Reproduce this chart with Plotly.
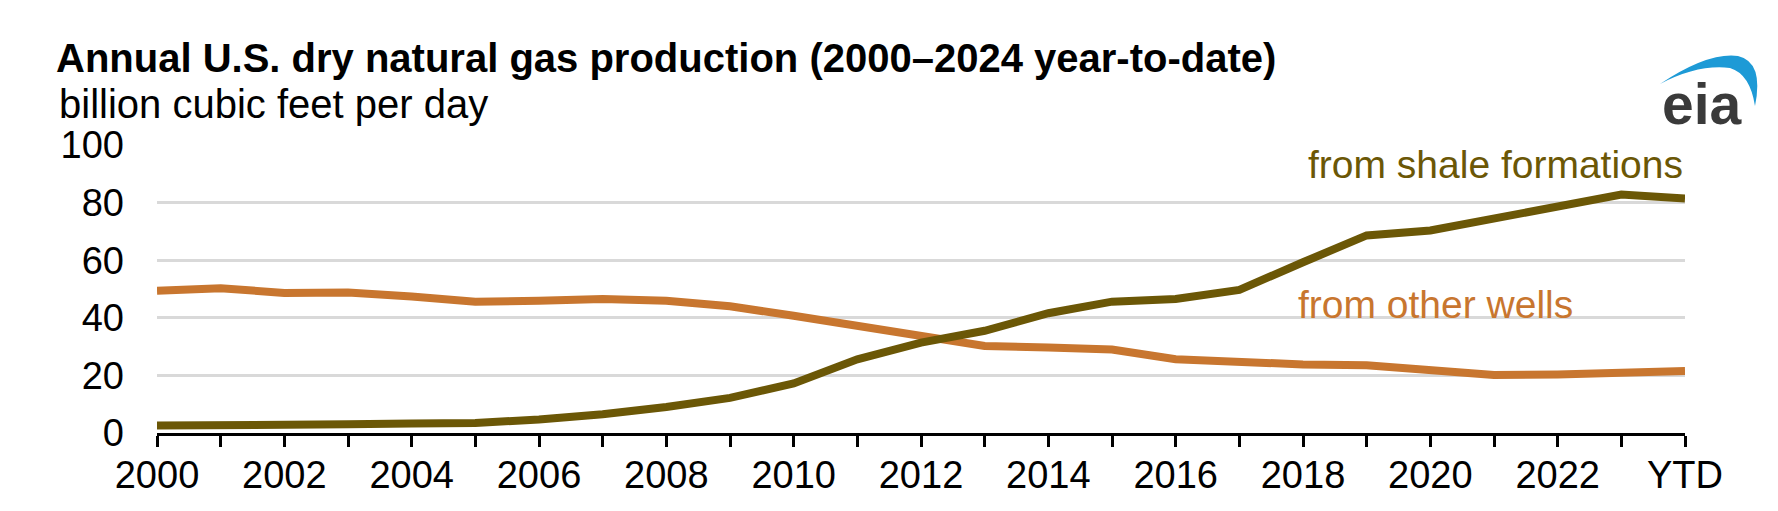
import plotly.graph_objects as go

# ---- data ----
categories = ["2000", "2001", "2002", "2003", "2004", "2005", "2006", "2007", "2008", "2009",
              "2010", "2011", "2012", "2013", "2014", "2015", "2016", "2017", "2018", "2019",
              "2020", "2021", "2022", "2023", "YTD"]
tick_labels = ["2000", "", "2002", "", "2004", "", "2006", "", "2008", "", "2010", "", "2012", "",
               "2014", "", "2016", "", "2018", "", "2020", "", "2022", "", "YTD"]
shale = [2.6, 2.6, 2.9, 3.0, 3.3, 3.5, 4.7, 6.5, 9.0, 12.2, 17.2, 25.6, 31.4, 35.5, 41.6,
         45.6, 46.5, 49.7, 59.3, 68.6, 70.3, 74.4, 78.8, 82.8, 81.4]
other = [49.4, 50.3, 48.6, 48.8, 47.4, 45.6, 45.9, 46.5, 45.9, 44.0, 40.7, 37.2, 34.0, 30.2,
         29.7, 29.0, 25.6, 24.4, 23.8, 23.5, 22.1, 20.1, 20.3, 21.2, 21.5]
y_ticks = [0, 20, 40, 60, 80, 100]

SHALE_C = "#6b5706"
OTHER_C = "#c8762f"
FONT = "Liberation Sans, Arial, sans-serif"

W, H = 1778, 511
L, R, T, B = 149, 101, 137, 86
PW, PH = W - L - R, H - T - B


def px(x):
    return (x - L) / PW


def py(y):
    return (H - B - y) / PH


fig = go.Figure()
fig.add_trace(go.Scatter(x=categories, y=other, mode="lines",
                         line=dict(color=OTHER_C, width=8), hoverinfo="skip", showlegend=False))
fig.add_trace(go.Scatter(x=categories, y=shale, mode="lines",
                         line=dict(color=SHALE_C, width=8), hoverinfo="skip", showlegend=False))

fig.update_layout(
    width=W, height=H,
    margin=dict(l=L, r=R, t=T, b=B),
    paper_bgcolor="white", plot_bgcolor="white",
    font=dict(family=FONT, color="black", size=38),
    title=dict(text="<b>Annual U.S. dry natural gas production (2000–2024 year-to-date)</b>",
               x=48 / W, xref="container", xanchor="left",
               y=1 - 50 / H, yref="container", yanchor="middle",
               font=dict(size=40, color="black", family=FONT)),
)
fig.update_xaxes(type="category", range=[0, len(categories) - 1],
                 tickvals=categories, ticktext=tick_labels,
                 showgrid=False, showline=True, linecolor="black", linewidth=2.5,
                 ticks="outside", ticklen=11, tickwidth=2.5, tickcolor="black",
                 tickfont=dict(size=38, color="black"), ticklabelstandoff=-4)
fig.update_yaxes(range=[0, 100], tickvals=y_ticks, showgrid=True, gridcolor="#d9d9d9",
                 gridwidth=2.5, zeroline=False, showline=False, ticks="",
                 tickfont=dict(size=38, color="black"), ticklabelstandoff=32)

fig.add_annotation(text="billion cubic feet per day", xref="paper", yref="paper",
                   x=px(49), y=py(96), xanchor="left", yanchor="middle", showarrow=False,
                   font=dict(size=40, color="black"))
fig.add_annotation(text="from shale formations", xref="paper", yref="y",
                   x=1.0, y=93.1, xanchor="right", yanchor="middle", showarrow=False,
                   font=dict(size=39, color=SHALE_C))
fig.add_annotation(text="from other wells", xref="paper", yref="y",
                   x=px(1288), y=44.6, xanchor="left", yanchor="middle", showarrow=False,
                   font=dict(size=39, color=OTHER_C))
# eia logo
fig.add_annotation(text="<b>eia</b>", xref="paper", yref="paper",
                   x=px(1694), y=py(96), xanchor="center", yanchor="middle", showarrow=False,
                   font=dict(size=57, color="#3a3a3a"))
arc = (f"M {px(1652)},{py(76)} Q {px(1700)},{py(44)} {px(1730)},{py(48)} "
       f"Q {px(1756)},{py(54)} {px(1747)},{py(98)} "
       f"Q {px(1742)},{py(66)} {px(1722)},{py(60)} "
       f"Q {px(1690)},{py(56)} {px(1652)},{py(76)} Z")
fig.add_shape(type="path", path=arc, xref="paper", yref="paper",
              fillcolor="#1d9ad6", line=dict(width=0))

fig.write_html("out.html")
